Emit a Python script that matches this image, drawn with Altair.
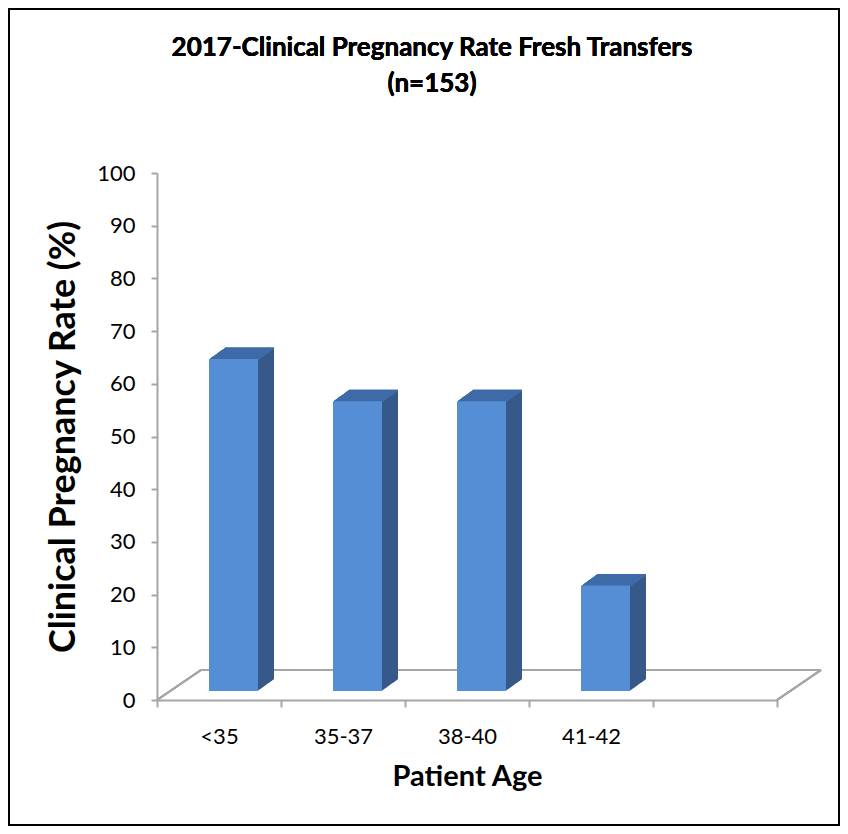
import altair as alt
import pandas as pd

# ---- data ----
categories = ["<35", "35-37", "38-40", "41-42"]
rates = [63, 55, 55, 20]
x_domain = categories + [" "]          # fifth, empty slot on the floor
y_ticks = list(range(0, 101, 10))

title_lines = ["2017-Clinical Pregnancy Rate Fresh Transfers", "(n=153)"]
y_title = "Clinical Pregnancy Rate (%)"
x_title = "Patient Age"

# ---- style ----
FONT = "Lato"
FRONT = "#558ed5"
SIDE = "#36598a"
TOP = "#3f6ba7"
GREY = "#a6a6a6"

W, H = 620, 527
PAD = {"left": 149, "top": 165, "right": 63, "bottom": 126}

BAR_W = 49
X_SHIFT = 14.5     # front face offset inside its band
BASE_SHIFT = -9    # front face sits in the middle of the floor depth
DEPTH_X, DEPTH_Y, STEPS = 16.0, 11.5, 16
FLOOR_DX, FLOOR_DY = 44, 30

df = pd.DataFrame({"age": categories, "rate": rates})

x_enc = alt.X(
    "age:N",
    sort=x_domain,
    scale=alt.Scale(domain=x_domain, paddingInner=0, paddingOuter=0),
    axis=alt.Axis(
        title=x_title, tickBand="extent", labelAngle=0,
        domainColor=GREY, domainWidth=2, tickColor=GREY, tickWidth=2, tickSize=7,
        labelFont=FONT, labelFontSize=22, labelColor="black", labelPadding=19,
        titleFont=FONT, titleFontSize=29, titleFontWeight="bold", titleColor="black",
        titlePadding=15,
    ),
)
y_enc = alt.Y(
    "rate:Q",
    scale=alt.Scale(domain=[0, 100], nice=False),
    axis=alt.Axis(
        title=y_title, values=y_ticks, grid=False,
        domainColor=GREY, domainWidth=2, tickColor=GREY, tickWidth=2, tickSize=6,
        labelFont=FONT, labelFontSize=22, labelColor="black", labelPadding=16,
        titleFont=FONT, titleFontSize=36, titleFontWeight="bold", titleColor="black",
        titlePadding=14,
    ),
)

layers = []

# floor outline (decoration of the 3-D plot area)
layers.append(alt.Chart().mark_rule(color=GREY, strokeWidth=2).encode(
    x=alt.value(FLOOR_DX), x2=alt.value(W + FLOOR_DX), y=alt.value(H - FLOOR_DY)))
layers.append(alt.Chart().mark_rule(color=GREY, strokeWidth=2).encode(
    x=alt.value(0), x2=alt.value(FLOOR_DX), y=alt.value(H), y2=alt.value(H - FLOOR_DY)))
layers.append(alt.Chart().mark_rule(color=GREY, strokeWidth=2).encode(
    x=alt.value(W), x2=alt.value(W + FLOOR_DX), y=alt.value(H), y2=alt.value(H - FLOOR_DY)))

# side (extrusion) of each bar
for k in range(STEPS, 0, -1):
    dx = X_SHIFT + DEPTH_X * k / STEPS
    dy = BASE_SHIFT - DEPTH_Y * k / STEPS
    layers.append(alt.Chart().mark_bar(color=SIDE, width=BAR_W, xOffset=dx,
                                       yOffset=dy, y2Offset=dy).encode(
        x=x_enc, y=y_enc, y2=alt.datum(0)))

# top face of each bar
for k in range(STEPS, 0, -1):
    dx = X_SHIFT + DEPTH_X * k / STEPS
    dy = BASE_SHIFT - DEPTH_Y * k / STEPS
    layers.append(alt.Chart().mark_bar(color=TOP, width=BAR_W, xOffset=dx,
                                       yOffset=dy, y2Offset=dy + 1.6).encode(
        x=x_enc, y=y_enc, y2=alt.Y2("rate:Q")))

# front face
layers.append(alt.Chart().mark_bar(color=FRONT, width=BAR_W, xOffset=X_SHIFT,
                                   yOffset=BASE_SHIFT, y2Offset=BASE_SHIFT).encode(
    x=x_enc, y=y_enc, y2=alt.datum(0)))

# chart title (two centred lines)
for i, line in enumerate(title_lines):
    layers.append(alt.Chart().mark_text(
        font=FONT, fontSize=26, fontWeight="bold", color="black",
        align="center", baseline="alphabetic").encode(
        x=alt.value(W / 2 - 35), y=alt.value(-117 + 36 * i), text=alt.value(line)))

# outer border of the chart
layers.append(alt.Chart().mark_rect(fill=None, stroke="black", strokeWidth=1.5).encode(
    x=alt.value(-PAD["left"] + 1), x2=alt.value(W + PAD["right"] - 1),
    y=alt.value(-PAD["top"] + 1), y2=alt.value(H + PAD["bottom"] - 1)))

chart = alt.layer(*layers, data=df).properties(
    width=W, height=H, padding=PAD, autosize="none", background="white",
).configure_view(stroke=None)

chart.save("out.html", embed_options={"renderer": "svg", "actions": False})
